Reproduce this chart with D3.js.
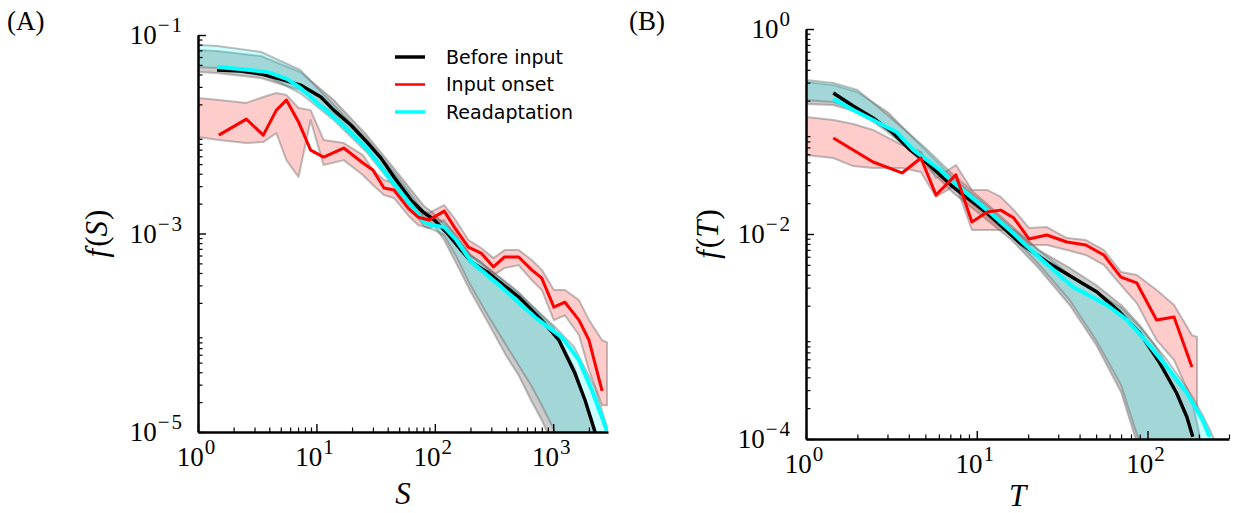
<!DOCTYPE html>
<html lang="en">
<head>
<meta charset="UTF-8">
<title>Avalanche size and duration distributions</title>
<script src="https://d3js.org/d3.v7.min.js"></script>
<style>
  body { margin: 0; background: #fff; }
  .tick-label { font-family: "Liberation Serif", "DejaVu Serif", serif; font-size: 27px; fill: #000; }
  .axis-label { font-family: "Liberation Serif", "DejaVu Serif", serif; font-size: 31px; fill: #000; }
  .panel-label { font-family: "Liberation Serif", "DejaVu Serif", serif; font-size: 27px; fill: #000; }
  .legend text { font-family: "DejaVu Sans", sans-serif; font-size: 19px; fill: #000; }
  .axis path, .axis line { stroke: #000; }
</style>
</head>
<body>
<svg id="chart" width="1233" height="513"></svg>
<script>
// ---------- panel A: avalanche size S ----------
var beforeSA = [1.45, 2.27, 3.36, 4.97, 7.34, 10.9, 14.0, 19.5, 27.2, 35.1, 45.2, 63, 81.3, 98.9, 125, 167, 204, 284, 511, 800, 1117, 1525, 1854, 2254];
var beforeFA = [0.0444, 0.0434, 0.0405, 0.036, 0.0313, 0.0237, 0.0175, 0.0124, 0.00815, 0.00575, 0.00371, 0.00217, 0.00161, 0.00137, 0.00103, 6.8e-4, 5.15e-4, 4.0e-4, 2.29e-4, 1.34e-4, 8.4e-5, 3.9e-5, 2.1e-5, 1.0e-5];

var readaptSA = [1.45, 2.27, 3.85, 5.69, 7.34, 10.9, 14.0, 19.5, 27.2, 42.6, 63, 81.3, 93.1, 120, 152, 204, 366, 698, 1183, 1649, 2128, 2585, 2851];
var readaptFA = [0.0475, 0.0454, 0.0424, 0.036, 0.0292, 0.0192, 0.0149, 0.0103, 0.00693, 0.00346, 0.00193, 0.0013, 0.00122, 0.00116, 8.6e-4, 5.15e-4, 2.88e-4, 1.44e-4, 9.0e-5, 5.3e-5, 2.6e-5, 1.4e-5, 1.0e-5];

var onsetSA = [1.5, 2.56, 3.56, 4.59, 5.58, 7.06, 8.93, 11.5, 17.0, 24.7, 30.0, 37.2, 45.2, 59.4, 72.3, 89.6, 120, 146, 192, 248, 313, 388, 511, 658, 800, 1012, 1254, 1649, 2005, 2585];
var onsetFA = [0.0098, 0.0142, 0.0098, 0.0175, 0.0221, 0.0133, 0.00693, 0.00589, 0.00726, 0.00513, 0.00436, 0.00287, 0.00274, 0.0018, 0.00146, 0.00137, 0.00168, 0.00116, 7.3e-4, 6.3e-4, 4.6e-4, 5.8e-4, 5.8e-4, 4.3e-4, 3.55e-4, 1.81e-4, 2.03e-4, 1.34e-4, 8.4e-5, 2.6e-5];

var onsetBandSA = [1.0, 1.5, 2.56, 3.56, 4.59, 5.58, 7.06, 8.93, 11.5, 17.0, 24.7, 30, 37.2, 45.2, 59.4, 72.3, 89.6, 120, 146, 192, 248, 313, 388, 511, 658, 800, 1012, 1254, 1649, 2005, 2585, 2851];
var onsetHiA = [0.0232, 0.0221, 0.0207, 0.0237, 0.026, 0.0248, 0.0184, 0.0175, 0.00875, 0.00815, 0.00617, 0.00436, 0.00346, 0.00322, 0.00217, 0.00172, 0.00161, 0.00193, 0.00143, 8.6e-4, 7.1e-4, 5.65e-4, 6.8e-4, 6.8e-4, 5.4e-4, 4.3e-4, 2.7e-4, 2.7e-4, 2.13e-4, 1.34e-4, 8.4e-5, 8.0e-5];
var onsetLoA = [0.0094, 0.00875, 0.00815, 0.00834, 0.0103, 0.00549, 0.00371, 0.0139, 0.0049, 0.00549, 0.00388, 0.00308, 0.00244, 0.00228, 0.00153, 0.00122, 0.00113, 0.00137, 9.6e-4, 6.1e-4, 5.15e-4, 3.8e-4, 4.5e-4, 4.8e-4, 3.4e-4, 2.7e-4, 1.34e-4, 1.5e-4, 9.5e-5, 4.2e-5, 1.86e-5, 1.86e-5];

var bandSA = [1, 1.45, 3.4, 7.3, 14, 27, 45, 81, 99, 120, 150, 200, 280, 400, 510, 650, 800, 1000, 1500, 2250, 2900];
var beforeHiA = [0.0706, 0.069, 0.0614, 0.0424, 0.0221, 0.0096, 0.00456, 0.00189, 0.00157, 0.00124, 9.2e-4, 6.05e-4, 4.48e-4, 3.24e-4, 2.56e-4, 1.9e-4, 1.5e-4, 1.14e-4, 4.5e-5, 1.09e-5, 3e-6];
var beforeLoA = [0.0424, 0.0414, 0.0369, 0.0279, 0.016, 0.00726, 0.00337, 0.00143, 0.00119, 8.6e-4, 5.15e-4, 2.62e-4, 1.28e-4, 5.9e-5, 3.74e-5, 2.09e-5, 1.32e-5, 7.4e-6, 2.05e-6, 8.1e-7, 3e-7];
var readaptHiA = [0.0793, 0.0775, 0.0674, 0.0444, 0.0197, 0.00875, 0.00416, 0.00164, 0.00143, 0.0013, 9.9e-4, 6.05e-4, 4.48e-4, 3.16e-4, 2.5e-4, 1.9e-4, 1.5e-4, 1.19e-4, 7.2e-5, 2.77e-5, 1.04e-5];
var readaptLoA = [0.0475, 0.0464, 0.0414, 0.026, 0.0139, 0.00646, 0.003, 0.00119, 0.00108, 9.6e-4, 6.05e-4, 3.02e-4, 1.5e-4, 7.5e-5, 4.7e-5, 2.96e-5, 1.86e-5, 1.09e-5, 3.4e-6, 8.1e-7, 3.2e-7];

// ---------- panel B: avalanche duration T ----------
var beforeTB = [1.445, 1.89, 2.47, 3.24, 4.08, 5.12, 7.27, 11.5, 17.9, 25.8, 38.6, 50.6, 68.9, 90.2, 118, 148, 170, 184];
var beforeFB = [0.2375, 0.1774, 0.1355, 0.0967, 0.066, 0.0493, 0.0288, 0.016, 0.00817, 0.00533, 0.00356, 0.00272, 0.00173, 0.00108, 5.5e-4, 2.81e-4, 1.64e-4, 1.05e-4];

var readaptTB = [1.445, 1.89, 3.39, 4.25, 6.11, 7.27, 11.5, 16.3, 23.4, 36.6, 57.8, 75.7, 99.1, 130, 170, 210, 231];
var readaptFB = [0.2075, 0.162, 0.099, 0.066, 0.0421, 0.0322, 0.0171, 0.0102, 0.00583, 0.00304, 0.00203, 0.00145, 8.8e-4, 5.04e-4, 2.81e-4, 1.53e-4, 1.05e-4];

var onsetTB = [1.445, 1.89, 2.47, 3.65, 4.71, 5.77, 7.55, 9.37, 11.5, 13.8, 16.5, 20.2, 25.7, 33.7, 43.5, 55.5, 69.8, 86.5, 113, 143, 182];
var onsetFB = [0.0865, 0.066, 0.0504, 0.0394, 0.0551, 0.024, 0.0377, 0.0131, 0.0164, 0.0171, 0.0143, 0.00894, 0.00977, 0.00835, 0.00781, 0.00624, 0.0038, 0.00333, 0.00145, 0.00155, 5.04e-4];

var onsetBandTB = [1, 1.445, 1.89, 2.47, 3.65, 4.71, 5.77, 7.55, 9.37, 11.5, 13.8, 16.5, 20.2, 25.7, 33.7, 43.5, 55.5, 69.8, 86.5, 113, 143, 182, 195];
var onsetHiB = [0.1385, 0.1295, 0.1183, 0.1035, 0.0738, 0.0631, 0.0352, 0.0471, 0.0269, 0.0269, 0.023, 0.0171, 0.01145, 0.0117, 0.00914, 0.00873, 0.00698, 0.00426, 0.00398, 0.00284, 0.00203, 0.00103, 9.9e-4];
var onsetLoB = [0.059, 0.0551, 0.046, 0.044, 0.044, 0.0403, 0.023, 0.0301, 0.01094, 0.01094, 0.01094, 0.01094, 0.00781, 0.00781, 0.00698, 0.00624, 0.00499, 0.00318, 0.00212, 9.2e-4, 5.9e-4, 2.4e-4, 1.92e-4];

var bandTB = [1, 1.445, 2, 3, 5, 7.3, 11.5, 16, 23, 35, 50, 70, 90, 110, 130, 150, 170, 185, 210, 235, 260];
var beforeHiB = [0.304, 0.284, 0.243, 0.155, 0.066, 0.0352, 0.01875, 0.01145, 0.00698, 0.00466, 0.00318, 0.00203, 0.00129, 8.3e-4, 5.27e-4, 3.52e-4, 2.88e-4, 2.15e-4, 8e-5, 3e-5, 1e-5];
var beforeLoB = [0.1854, 0.1815, 0.155, 0.1035, 0.0471, 0.0251, 0.0137, 0.00873, 0.00466, 0.00203, 8.3e-4, 2.88e-4, 7.5e-5, 4.0e-5, 2.03e-5, 1.03e-5, 6.6e-6, 4.2e-6, 2.7e-6, 1.7e-6, 1.1e-6];
var readaptHiB = [0.318, 0.297, 0.254, 0.145, 0.069, 0.0377, 0.0196, 0.01197, 0.00698, 0.00398, 0.00272, 0.0019, 0.00124, 8.3e-4, 5.9e-4, 4.2e-4, 3.15e-4, 2.51e-4, 1.71e-4, 1.17e-4, 7.8e-5];
var readaptLoB = [0.203, 0.194, 0.162, 0.0989, 0.0504, 0.0281, 0.015, 0.00955, 0.0051, 0.00227, 9.2e-4, 3.36e-4, 9.1e-5, 5.0e-5, 2.54e-5, 1.3e-5, 6.6e-6, 4.2e-6, 2.7e-6, 1.7e-6, 1.1e-6];

// axis ticks / labels
var xMajorA = [1, 10, 100, 1000];
var yLabelA = [1e-1, 1e-3, 1e-5];
var xMajorB = [1, 10, 100];
var yLabelB = [1, 1e-2, 1e-4];

var legendNames = ["Before input", "Input onset", "Readaptation"];
var colBefore = "#000000", colOnset = "#ff0000", colReadapt = "#00ffff";

var svg = d3.select("#chart");

function minorTicks(lo, hi) {
    var t = [];
    for (var e = Math.floor(Math.log10(lo)); e < Math.ceil(Math.log10(hi)); e++) {
        for (var k = 2; k < 10; k++) {
            var v = k * Math.pow(10, e);
            if (v >= lo * 0.999 && v <= hi * 1.001) t.push(v);
        }
    }
    return t;
}

// "10" with a raised exponent, the minus a bit wider like TeX
function powText(sel, v) {
    var e = Math.round(Math.log10(v));
    sel.append("tspan").text("10");
    if (e < 0) {
        sel.append("tspan").attr("dy", -12).attr("dx", 1).attr("font-size", 21).text("\u2212");
        sel.append("tspan").attr("dx", 2).attr("font-size", 21).text(String(-e));
    } else {
        sel.append("tspan").attr("dy", -12).attr("dx", 1).attr("font-size", 21).text(String(e));
    }
}

function drawPanel(p) {
    var x = d3.scaleLog().domain(p.xDomain).range([p.left, p.right]);
    var y = d3.scaleLog().domain(p.yDomain).range([p.bottom, p.top]);
    var g = svg.append("g");

    g.append("clipPath").attr("id", p.id + "-clip")
        .append("rect")
        .attr("x", p.left).attr("y", p.top)
        .attr("width", p.right - p.left).attr("height", p.bottom - p.top);
    var plot = g.append("g").attr("clip-path", "url(#" + p.id + "-clip)");

    function band(xs, lo, hi, color) {
        var area = d3.area()
            .x(function (d) { return x(d[0]); })
            .y0(function (d) { return y(d[1]); })
            .y1(function (d) { return y(d[2]); });
        plot.append("path")
            .datum(d3.zip(xs, lo, hi))
            .attr("d", area)
            .attr("fill", color).attr("fill-opacity", 0.2)
            .attr("stroke", "#6e6e6e").attr("stroke-opacity", 0.45)
            .attr("stroke-width", 2).attr("stroke-linejoin", "round");
    }
    function curve(xs, fs, color, w) {
        var line = d3.line()
            .x(function (d) { return x(d[0]); })
            .y(function (d) { return y(d[1]); });
        plot.append("path")
            .datum(d3.zip(xs, fs))
            .attr("d", line)
            .attr("fill", "none").attr("stroke", color)
            .attr("stroke-width", w).attr("stroke-linejoin", "round");
    }

    band(p.bandX, p.beforeLo, p.beforeHi, colBefore);
    band(p.bandX, p.readaptLo, p.readaptHi, colReadapt);
    band(p.onsetBandX, p.onsetLo, p.onsetHi, colOnset);
    curve(p.beforeX, p.beforeF, colBefore, 3.4);
    curve(p.readaptX, p.readaptF, colReadapt, 4);
    curve(p.onsetX, p.onsetF, colOnset, 3);

    // minor ticks (inward)
    g.append("g").attr("class", "axis")
        .attr("transform", "translate(0," + p.bottom + ")")
        .call(d3.axisBottom(x).tickValues(minorTicks(p.xDomain[0], p.xDomain[1]))
            .tickSize(-4.5).tickFormat(""))
        .call(function (a) { a.select(".domain").remove(); a.selectAll("line").attr("stroke-width", 1.2); });
    g.append("g").attr("class", "axis")
        .attr("transform", "translate(" + p.left + ",0)")
        .call(d3.axisLeft(y).tickValues(minorTicks(p.yDomain[0], p.yDomain[1]))
            .tickSize(-4.5).tickFormat(""))
        .call(function (a) { a.select(".domain").remove(); a.selectAll("line").attr("stroke-width", 1.2); });

    // major ticks + spines
    g.append("g").attr("class", "axis")
        .attr("transform", "translate(0," + p.bottom + ")")
        .call(d3.axisBottom(x).tickValues(p.xMajor).tickSize(-8).tickSizeOuter(0).tickFormat(""))
        .call(function (a) { a.select(".domain").attr("stroke-width", 2.5); a.selectAll("line").attr("stroke-width", 1.4); });
    g.append("g").attr("class", "axis")
        .attr("transform", "translate(" + p.left + ",0)")
        .call(d3.axisLeft(y).tickValues(p.yLabels).tickSize(-8).tickSizeOuter(0).tickFormat(""))
        .call(function (a) { a.select(".domain").attr("stroke-width", 2.5); a.selectAll("line").attr("stroke-width", 1.4); });

    // tick labels
    p.xMajor.forEach(function (v) {
        g.append("text").attr("class", "tick-label")
            .attr("x", x(v) - 2).attr("y", p.bottom + 34)
            .attr("text-anchor", "middle")
            .call(powText, v);
    });
    p.yLabels.forEach(function (v) {
        g.append("text").attr("class", "tick-label")
            .attr("x", p.left - 16).attr("y", y(v) + 9)
            .attr("text-anchor", "end")
            .call(powText, v);
    });

    // axis titles
    g.append("text").attr("class", "axis-label")
        .attr("x", (p.left + p.right) / 2).attr("y", p.xNameY)
        .attr("text-anchor", "middle").attr("font-style", "italic")
        .text(p.xName);
    var yl = g.append("text").attr("class", "axis-label")
        .attr("transform", "translate(" + p.yLabelX + "," + ((p.top + p.bottom) / 2) + ") rotate(-90)")
        .attr("text-anchor", "middle").attr("dominant-baseline", "central");
    yl.append("tspan").attr("font-style", "italic").text("f");
    yl.append("tspan").attr("dx", 2).text("(");
    yl.append("tspan").attr("font-style", "italic").text(p.xName);
    yl.append("tspan").attr("dx", 1).text(")");

    svg.append("text").attr("class", "panel-label")
        .attr("x", p.tagX).attr("y", 30).text(p.tag);
    return { x: x, y: y };
}

drawPanel({
    id: "pa", tag: "(A)", tagX: 7, xName: "S", xNameY: 504, yLabelX: 96,
    left: 198, right: 608, top: 35, bottom: 432,
    xDomain: [1, 2900], yDomain: [1e-5, 1e-1],
    xMajor: xMajorA, yLabels: yLabelA,
    beforeX: beforeSA, beforeF: beforeFA,
    readaptX: readaptSA, readaptF: readaptFA,
    onsetX: onsetSA, onsetF: onsetFA,
    onsetBandX: onsetBandSA, onsetLo: onsetLoA, onsetHi: onsetHiA,
    bandX: bandSA, beforeLo: beforeLoA, beforeHi: beforeHiA, readaptLo: readaptLoA, readaptHi: readaptHiA
});

drawPanel({
    id: "pb", tag: "(B)", tagX: 629, xName: "T", xNameY: 506, yLabelX: 707,
    left: 806, right: 1229, top: 29, bottom: 439,
    xDomain: [1, 300], yDomain: [1e-4, 1],
    xMajor: xMajorB, yLabels: yLabelB,
    beforeX: beforeTB, beforeF: beforeFB,
    readaptX: readaptTB, readaptF: readaptFB,
    onsetX: onsetTB, onsetF: onsetFB,
    onsetBandX: onsetBandTB, onsetLo: onsetLoB, onsetHi: onsetHiB,
    bandX: bandTB, beforeLo: beforeLoB, beforeHi: beforeHiB, readaptLo: readaptLoB, readaptHi: readaptHiB
});

// legend (panel A)
var legend = svg.append("g").attr("class", "legend");
var legendCols = [colBefore, colOnset, colReadapt];
var legendW = [3.5, 2.5, 3.5];
legendNames.forEach(function (name, i) {
    var yy = 57 + i * 27.5;
    legend.append("line")
        .attr("x1", 395).attr("x2", 425).attr("y1", yy).attr("y2", yy)
        .attr("stroke", legendCols[i]).attr("stroke-width", legendW[i]);
    legend.append("text").attr("x", 446).attr("y", yy + 6.5).text(name);
});
</script>
</body>
</html>
